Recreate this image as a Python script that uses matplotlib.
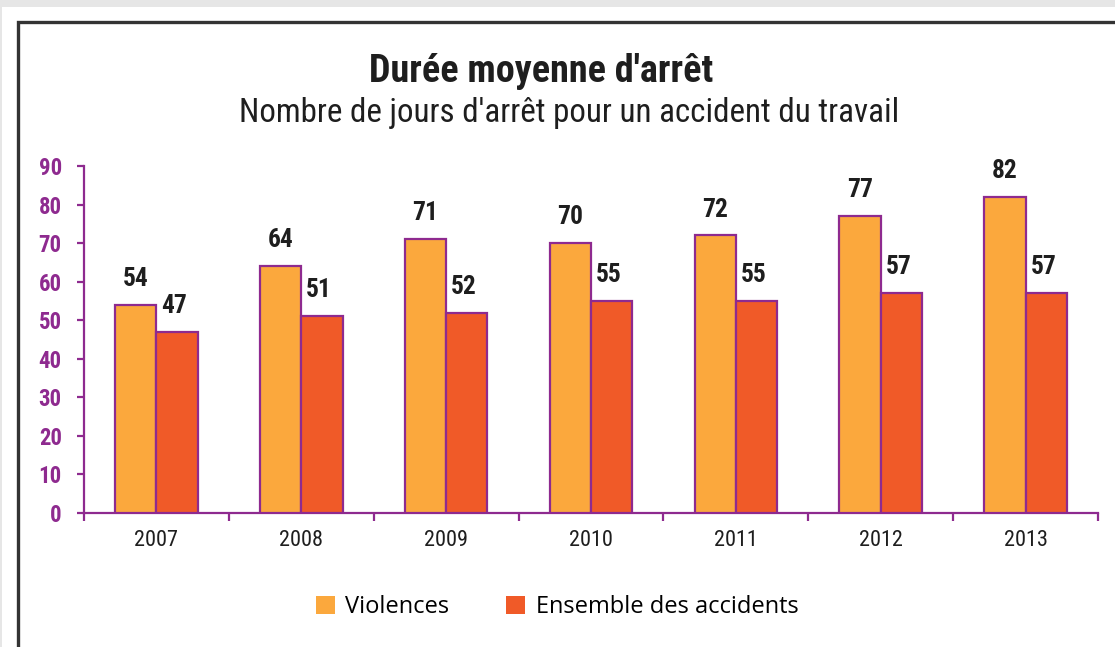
import matplotlib
matplotlib.use('Agg')
import matplotlib.pyplot as plt
from matplotlib import font_manager as fm
from matplotlib.patches import Rectangle, Patch

# ---- data ----
years = ['2007', '2008', '2009', '2010', '2011', '2012', '2013']
violences = [54, 64, 71, 70, 72, 77, 82]
ensemble = [47, 51, 52, 55, 55, 57, 57]
yticks = [0, 10, 20, 30, 40, 50, 60, 70, 80, 90]
series_names = ['Violences', 'Ensemble des accidents']
title = "Durée moyenne d'arrêt"
subtitle = "Nombre de jours d'arrêt pour un accident du travail"

# ---- fonts: look for a condensed family ----
COND_ST = {'condensed', 'semi-condensed', 'extra-condensed', 'ultra-condensed'}


def _w(v):
    if isinstance(v, str):
        return fm.weight_dict.get(v, 400)
    return v


cond = {}
for f in fm.fontManager.ttflist:
    st = f.stretch
    is_c = ((isinstance(st, str) and st in COND_ST) or
            (isinstance(st, (int, float)) and st < 500) or
            'Condensed' in f.name or 'Narrow' in f.name)
    if is_c:
        cond.setdefault(f.name, set()).add(_w(f.weight))
prefer = ['Liberation Sans Narrow', 'Open Sans Condensed', 'Roboto Condensed',
          'Open Sans', 'Noto Sans', 'DejaVu Sans'] + sorted(cond)
COND = None
for n in prefer:  # family with both regular and bold condensed
    if n in cond and max(cond[n]) >= 600 and min(cond[n]) <= 400:
        COND = n
        break
if COND is None:
    for n in prefer:
        if n in cond and max(cond[n]) >= 600:
            COND = n
            break
if COND is None:
    COND = 'DejaVu Sans'
CK = dict(family=COND, stretch='condensed')
REGW = 'normal'

names = {f.name for f in fm.fontManager.ttflist}
REG = 'Open Sans' if 'Open Sans' in names else 'DejaVu Sans'

PURPLE = '#8E2A8F'
ORANGE = '#FBA83D'
RED = '#F05A28'
TXT = '#1e1e1e'

W, H = 1115, 647
fig = plt.figure(figsize=(W / 100, H / 100), dpi=100)
fig.patch.set_facecolor('white')
renderer = fig.canvas.get_renderer()


def fit_size(text, target_px, base=16, **kw):
    t = fig.text(0, 0, text, fontsize=base, **kw)
    wpx = t.get_window_extent(renderer).width
    t.remove()
    return base * target_px / wpx


# background decorations: top grey strip and frame
fig.patches.append(Rectangle((0, (H - 7) / H), 1, 7 / H, transform=fig.transFigure,
                             facecolor='#e6e6e6', edgecolor='none', zorder=0))
fig.patches.append(Rectangle((0, 0), 2 / W, 1, transform=fig.transFigure,
                             facecolor='#e6e6e6', edgecolor='none', zorder=0))
fig.patches.append(Rectangle((18 / W, -0.05), 1.2, (H - 22) / H + 0.05,
                             transform=fig.transFigure, facecolor='none',
                             edgecolor='#333333', linewidth=2.4, zorder=1))

ax = fig.add_axes([84 / W, 134 / H, (1098 - 84) / W, (513 - 166) / H])
ax.set_facecolor('none')

x = list(range(len(years)))
bw = 0.285
ax.bar([i - bw / 2 for i in x], violences, width=bw, color=ORANGE,
       edgecolor=PURPLE, linewidth=1.6, zorder=3)
ax.bar([i + bw / 2 for i in x], ensemble, width=bw, color=RED,
       edgecolor=PURPLE, linewidth=1.6, zorder=3)

fs_val = fit_size('54', 26, fontweight='bold', **CK)
for i in x:
    ax.annotate(str(violences[i]), (i - bw / 2, violences[i]), xytext=(0, 10),
                textcoords='offset points', ha='center', va='bottom',
                fontsize=fs_val, fontweight='bold', color=TXT, **CK)
    ax.annotate(str(ensemble[i]), (i + bw / 2 - 0.02, ensemble[i]), xytext=(0, 10),
                textcoords='offset points', ha='center', va='bottom',
                fontsize=fs_val, fontweight='bold', color=TXT, **CK)

fs_y = fit_size('90', 23, fontweight='bold', **CK)
fs_x = fit_size('2007', 44, fontweight=REGW, **CK)

ax.set_xlim(-0.5, len(years) - 0.5)
ax.set_ylim(0, 90)
ax.set_yticks(yticks)
ax.set_yticklabels([str(v) for v in yticks], fontsize=fs_y, fontweight='bold',
                   color=PURPLE, **CK)
ax.set_xticks(x)
ax.set_xticklabels(years, fontsize=fs_x, fontweight=REGW, color=TXT, **CK)
ax.set_xticks([i - 0.5 for i in range(len(years) + 1)], minor=True)
ax.tick_params(axis='x', which='major', length=0, pad=12)
ax.tick_params(axis='x', which='minor', length=6, width=1.6, color=PURPLE, direction='out')
ax.tick_params(axis='y', length=5, width=1.6, color=PURPLE, direction='out', pad=11)

for s in ['top', 'right']:
    ax.spines[s].set_visible(False)
for s in ['left', 'bottom']:
    ax.spines[s].set_color(PURPLE)
    ax.spines[s].set_linewidth(1.6)

fs_t = fit_size(title, 343, fontweight='bold', **CK)
fs_s = fit_size(subtitle, 662, fontweight=REGW, **CK)
fig.text(541 / W, 1 - 82 / H, title, ha='center', va='baseline', fontsize=fs_t,
         fontweight='bold', color=TXT, **CK)
fig.text(569 / W, 1 - 122 / H, subtitle, ha='center', va='baseline', fontsize=fs_s,
         fontweight=REGW, color=TXT, **CK)

fs_l = fit_size(series_names[1], 263, family=REG)
handles = [Patch(facecolor=ORANGE, edgecolor='none'), Patch(facecolor=RED, edgecolor='none')]
fig.legend(handles, series_names, loc='center', bbox_to_anchor=(557 / W, 1 - 607 / H),
           ncol=2, frameon=False, prop={'family': REG, 'size': fs_l},
           handlelength=0.8, handleheight=0.8, handletextpad=0.45, columnspacing=2.4)

fig.savefig('out.png', dpi=100, facecolor='white')
